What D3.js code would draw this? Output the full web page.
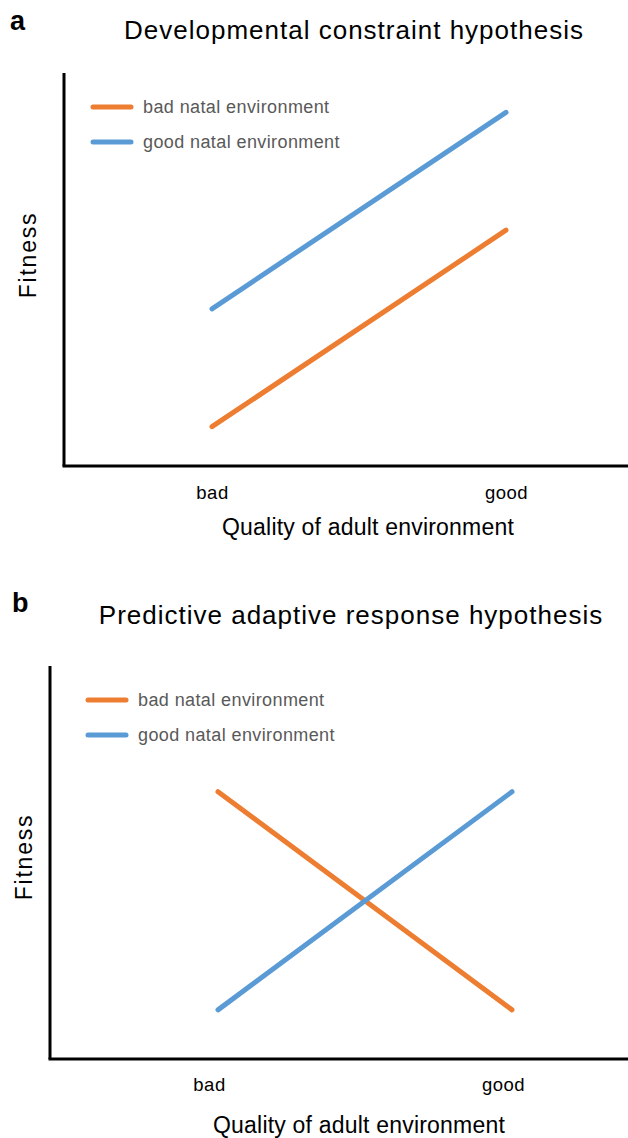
<!DOCTYPE html>
<html>
<head>
<meta charset="utf-8">
<script src="https://cdn.jsdelivr.net/npm/d3@7"></script>
<style>
  body { margin: 0; background: #fff; }
  text { font-family: "Liberation Sans", Arial, sans-serif; }
</style>
</head>
<body>
<svg id="chart" width="628" height="1138"></svg>
<script>
// data
const adultQuality = ['bad', 'good']
const seriesNames = ['bad natal environment', 'good natal environment']
const seriesColors = ['#ED7D31', '#5B9BD5']
// panel a: developmental constraint
const constraintBad = [1, 6]
const constraintGood = [4, 9]
// panel b: predictive adaptive response
const predictiveBad = [6.8, 1.25]
const predictiveGood = [1.25, 6.8]

// layout of the two panels (absolute page coordinates)
const panels = [
  { letter: 'a', letterX: 10, letterY: 30, title: 'Developmental constraint hypothesis', titleX: 354, titleY: 39,
    axisX: 64, top: 73, bottom: 466, xRange: [212, 506], tickDx: 0, tickY: 499,
    xLabelX: 368, xLabelY: 535, fitX: 36, fitY: 255,
    legendX: 91, legendY: 107, series: [constraintBad, constraintGood] },
  { letter: 'b', letterX: 12, letterY: 612, title: 'Predictive adaptive response hypothesis', titleX: 351, titleY: 624,
    axisX: 50, top: 666, bottom: 1059, xRange: [218, 512], tickDx: -9, tickY: 1091,
    xLabelX: 359, xLabelY: 1133, fitX: 32, fitY: 857,
    legendX: 86, legendY: 700, series: [predictiveBad, predictiveGood] }
]

const svg = d3.select('#chart')

panels.forEach(p => {
  const g = svg.append('g')
  const x = d3.scalePoint().domain(adultQuality).range(p.xRange)
  const y = d3.scaleLinear().domain([0, 10]).range([p.bottom, p.top])

  g.append('text')
    .attr('x', p.letterX)
    .attr('y', p.letterY)
    .style('font-size', '27px')
    .style('font-weight', 'bold')
    .text(p.letter)

  g.append('text')
    .attr('x', p.titleX)
    .attr('y', p.titleY)
    .attr('text-anchor', 'middle')
    .style('font-size', '26px')
    .style('letter-spacing', '1px')
    .text(p.title)

  // axes
  g.append('line')
    .attr('x1', p.axisX).attr('x2', p.axisX)
    .attr('y1', p.top).attr('y2', p.bottom)
    .style('stroke', '#000').style('stroke-width', 3)
  g.append('line')
    .attr('x1', p.axisX - 1.5).attr('x2', 628)
    .attr('y1', p.bottom).attr('y2', p.bottom)
    .style('stroke', '#000').style('stroke-width', 3)

  const xAxis = g.append('g')
    .attr('transform', `translate(${p.tickDx},${p.bottom})`)
    .call(d3.axisBottom(x).tickSize(0).tickPadding(0))
    .attr('font-size', 18.5)
    .attr('font-family', '"Liberation Sans", Arial, sans-serif')
  xAxis.select('.domain').remove()
  xAxis.selectAll('text')
    .attr('y', p.tickY - p.bottom)
    .attr('dy', null)
    .style('font-size', '18.5px')
    .style('letter-spacing', '0.5px')
    .attr('fill', '#000')

  g.append('text')
    .attr('x', p.xLabelX)
    .attr('y', p.xLabelY)
    .attr('text-anchor', 'middle')
    .style('font-size', '23px')
    .style('letter-spacing', '0.2px')
    .text('Quality of adult environment')

  g.append('text')
    .attr('transform', `translate(${p.fitX},${p.fitY}) rotate(-90)`)
    .attr('text-anchor', 'middle')
    .style('font-size', '23px')
    .style('letter-spacing', '1.8px')
    .text('Fitness')

  const line = d3.line()
    .x((d, i) => x(adultQuality[i]))
    .y(d => y(d))

  p.series.forEach((s, i) => {
    g.append('path')
      .datum(s)
      .attr('d', line)
      .style('fill', 'none')
      .style('stroke', seriesColors[i])
      .style('stroke-width', 5)
      .style('stroke-linecap', 'round')
  })

  // legend
  seriesNames.forEach((name, i) => {
    const ly = p.legendY + i * 35
    g.append('line')
      .attr('x1', p.legendX + 2).attr('x2', p.legendX + 40)
      .attr('y1', ly).attr('y2', ly)
      .style('stroke', seriesColors[i])
      .style('stroke-width', 5)
      .style('stroke-linecap', 'round')
    g.append('text')
      .attr('x', p.legendX + 52)
      .attr('y', ly + 6)
      .style('font-size', '18px')
      .style('letter-spacing', '0.4px')
      .style('fill', '#595959')
      .text(name)
  })
})
</script>
</body>
</html>
